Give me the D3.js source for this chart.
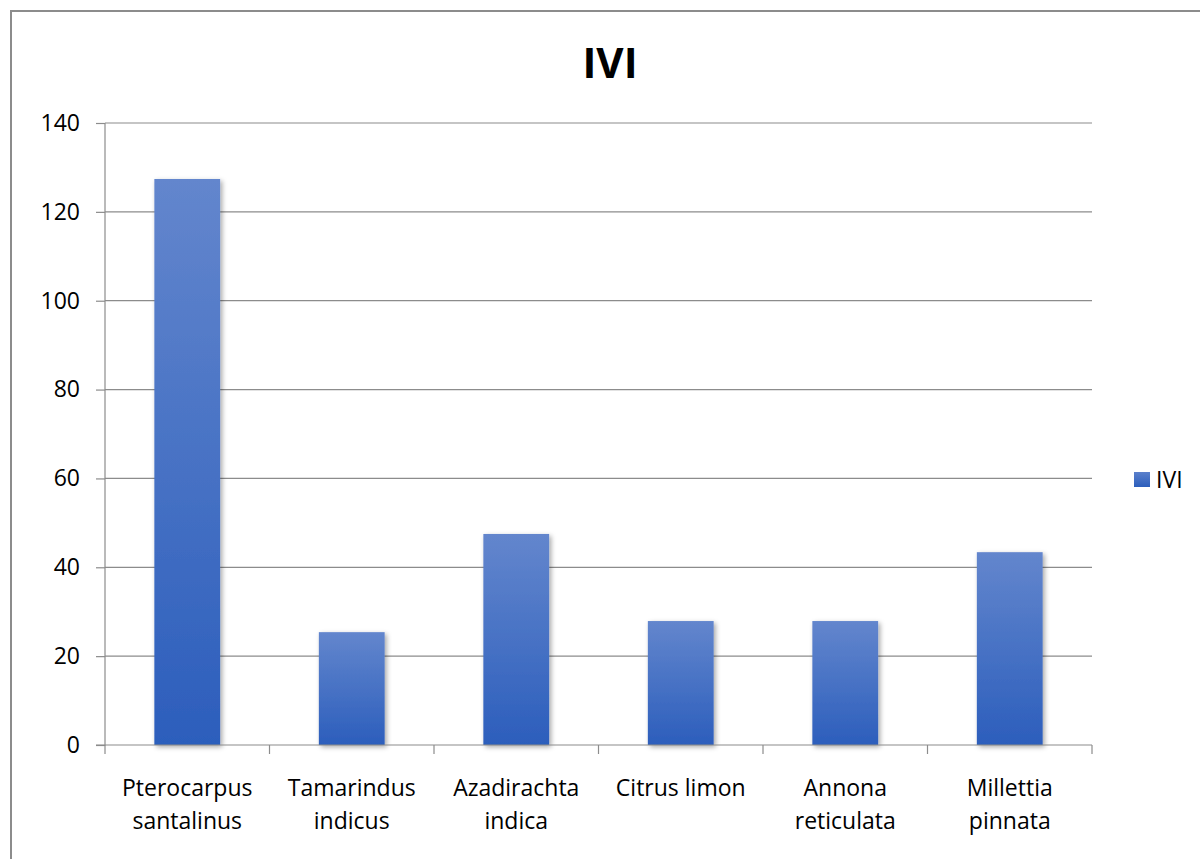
<!DOCTYPE html>
<html><head><meta charset="utf-8">
<script src="https://cdn.jsdelivr.net/npm/d3@7"></script>
<style>body{margin:0;background:#fff}svg{display:block}text{font-family:"Open Sans","Liberation Sans",sans-serif}</style>
</head><body>
<svg id="c" width="1200" height="859"></svg>
<script>
const categories = [["Pterocarpus","santalinus"],["Tamarindus","indicus"],["Azadirachta","indica"],["Citrus limon"],["Annona","reticulata"],["Millettia","pinnata"]];
const values = [127.4, 25.4, 47.5, 27.9, 27.9, 43.4];
const yTicks = [0,20,40,60,80,100,120,140];
const seriesName = "IVI";

const svg = d3.select("#c");
const L=105, R=1092, T=123, B=745;
const defs = svg.append("defs");
const g = defs.append("linearGradient").attr("id","grad").attr("x1",0).attr("y1",0).attr("x2",0).attr("y2",1);
g.append("stop").attr("offset","0%").attr("stop-color","#6386cd");
g.append("stop").attr("offset","100%").attr("stop-color","#2c5ebc");
const lg = defs.append("linearGradient").attr("id","lgrad").attr("x1",0).attr("y1",0).attr("x2",0).attr("y2",1);
lg.append("stop").attr("offset","0%").attr("stop-color","#5b80cb");
lg.append("stop").attr("offset","100%").attr("stop-color","#2c5ebc");
const f = defs.append("filter").attr("id","sh").attr("x","-20%").attr("y","-20%").attr("width","150%").attr("height","150%");
f.append("feDropShadow").attr("dx",2).attr("dy",2).attr("stdDeviation",2.5).attr("flood-color","#000").attr("flood-opacity",0.35);

// chart border
svg.append("path").attr("d","M11,859 V11 H1200").attr("fill","none").attr("stroke","#8c8c8c").attr("stroke-width",2);

const x = d3.scaleBand().domain(d3.range(categories.length)).range([L,R]).paddingInner(0.6).paddingOuter(0.3);
const xb = d3.scaleBand().domain(d3.range(categories.length)).range([L,R]);
const y = d3.scaleLinear().domain([0,140]).range([B,T]);

// gridlines
svg.append("g").selectAll("line").data(yTicks.filter(d=>d>0)).join("line")
  .attr("x1",L).attr("x2",R).attr("y1",d=>y(d)).attr("y2",d=>y(d))
  .attr("stroke","#8c8c8c").attr("stroke-width",1.2);

// y axis
const ya = svg.append("g").attr("transform",`translate(${L},0)`).call(d3.axisLeft(y).tickValues(yTicks).tickSize(9).tickPadding(16));
ya.select(".domain").attr("stroke","#8c8c8c").attr("stroke-width",1.2).attr("d",`M0,${T}V${B+0.5}`);
ya.selectAll(".tick line").attr("stroke","#8c8c8c").attr("stroke-width",1.2);
ya.selectAll(".tick text").attr("font-size",23).attr("fill","#000").attr("font-family","'Open Sans',sans-serif");

// bars
svg.append("g").selectAll("rect").data(values).join("rect")
  .attr("x",(d,i)=>x(i)).attr("width",x.bandwidth())
  .attr("y",d=>y(d)).attr("height",d=>B-y(d))
  .attr("fill","url(#grad)").attr("filter","url(#sh)");

// x axis
const xa = svg.append("g").attr("transform",`translate(0,${B})`);
xa.append("line").attr("x1",L-9).attr("x2",R).attr("y1",0).attr("y2",0).attr("stroke","#8c8c8c").attr("stroke-width",1.2);
const bounds = d3.range(categories.length+1).map(i=> i<categories.length ? xb(i) : R);
xa.selectAll("line.t").data(bounds).join("line").attr("class","t")
  .attr("x1",d=>d).attr("x2",d=>d).attr("y1",0).attr("y2",9).attr("stroke","#8c8c8c").attr("stroke-width",1.2);
const lab = xa.selectAll("text.l").data(categories).join("text").attr("class","l")
  .attr("text-anchor","middle").attr("font-size",23).attr("fill","#000")
  .attr("transform",(d,i)=>`translate(${xb(i)+xb.bandwidth()/2},51)`);
lab.selectAll("tspan").data(d=>d).join("tspan").attr("x",0).attr("dy",(d,i)=>i===0?0:33).text(d=>d);

// title
svg.append("text").attr("x",610).attr("y",78).attr("text-anchor","middle").attr("font-size",42).attr("font-weight","bold").attr("fill","#000").text(seriesName);

// legend
svg.append("rect").attr("x",1134).attr("y",472).attr("width",16).attr("height",15).attr("fill","url(#lgrad)");
svg.append("text").attr("x",1156).attr("y",488).attr("font-size",23).attr("fill","#000").text(seriesName);
</script>
</body></html>
